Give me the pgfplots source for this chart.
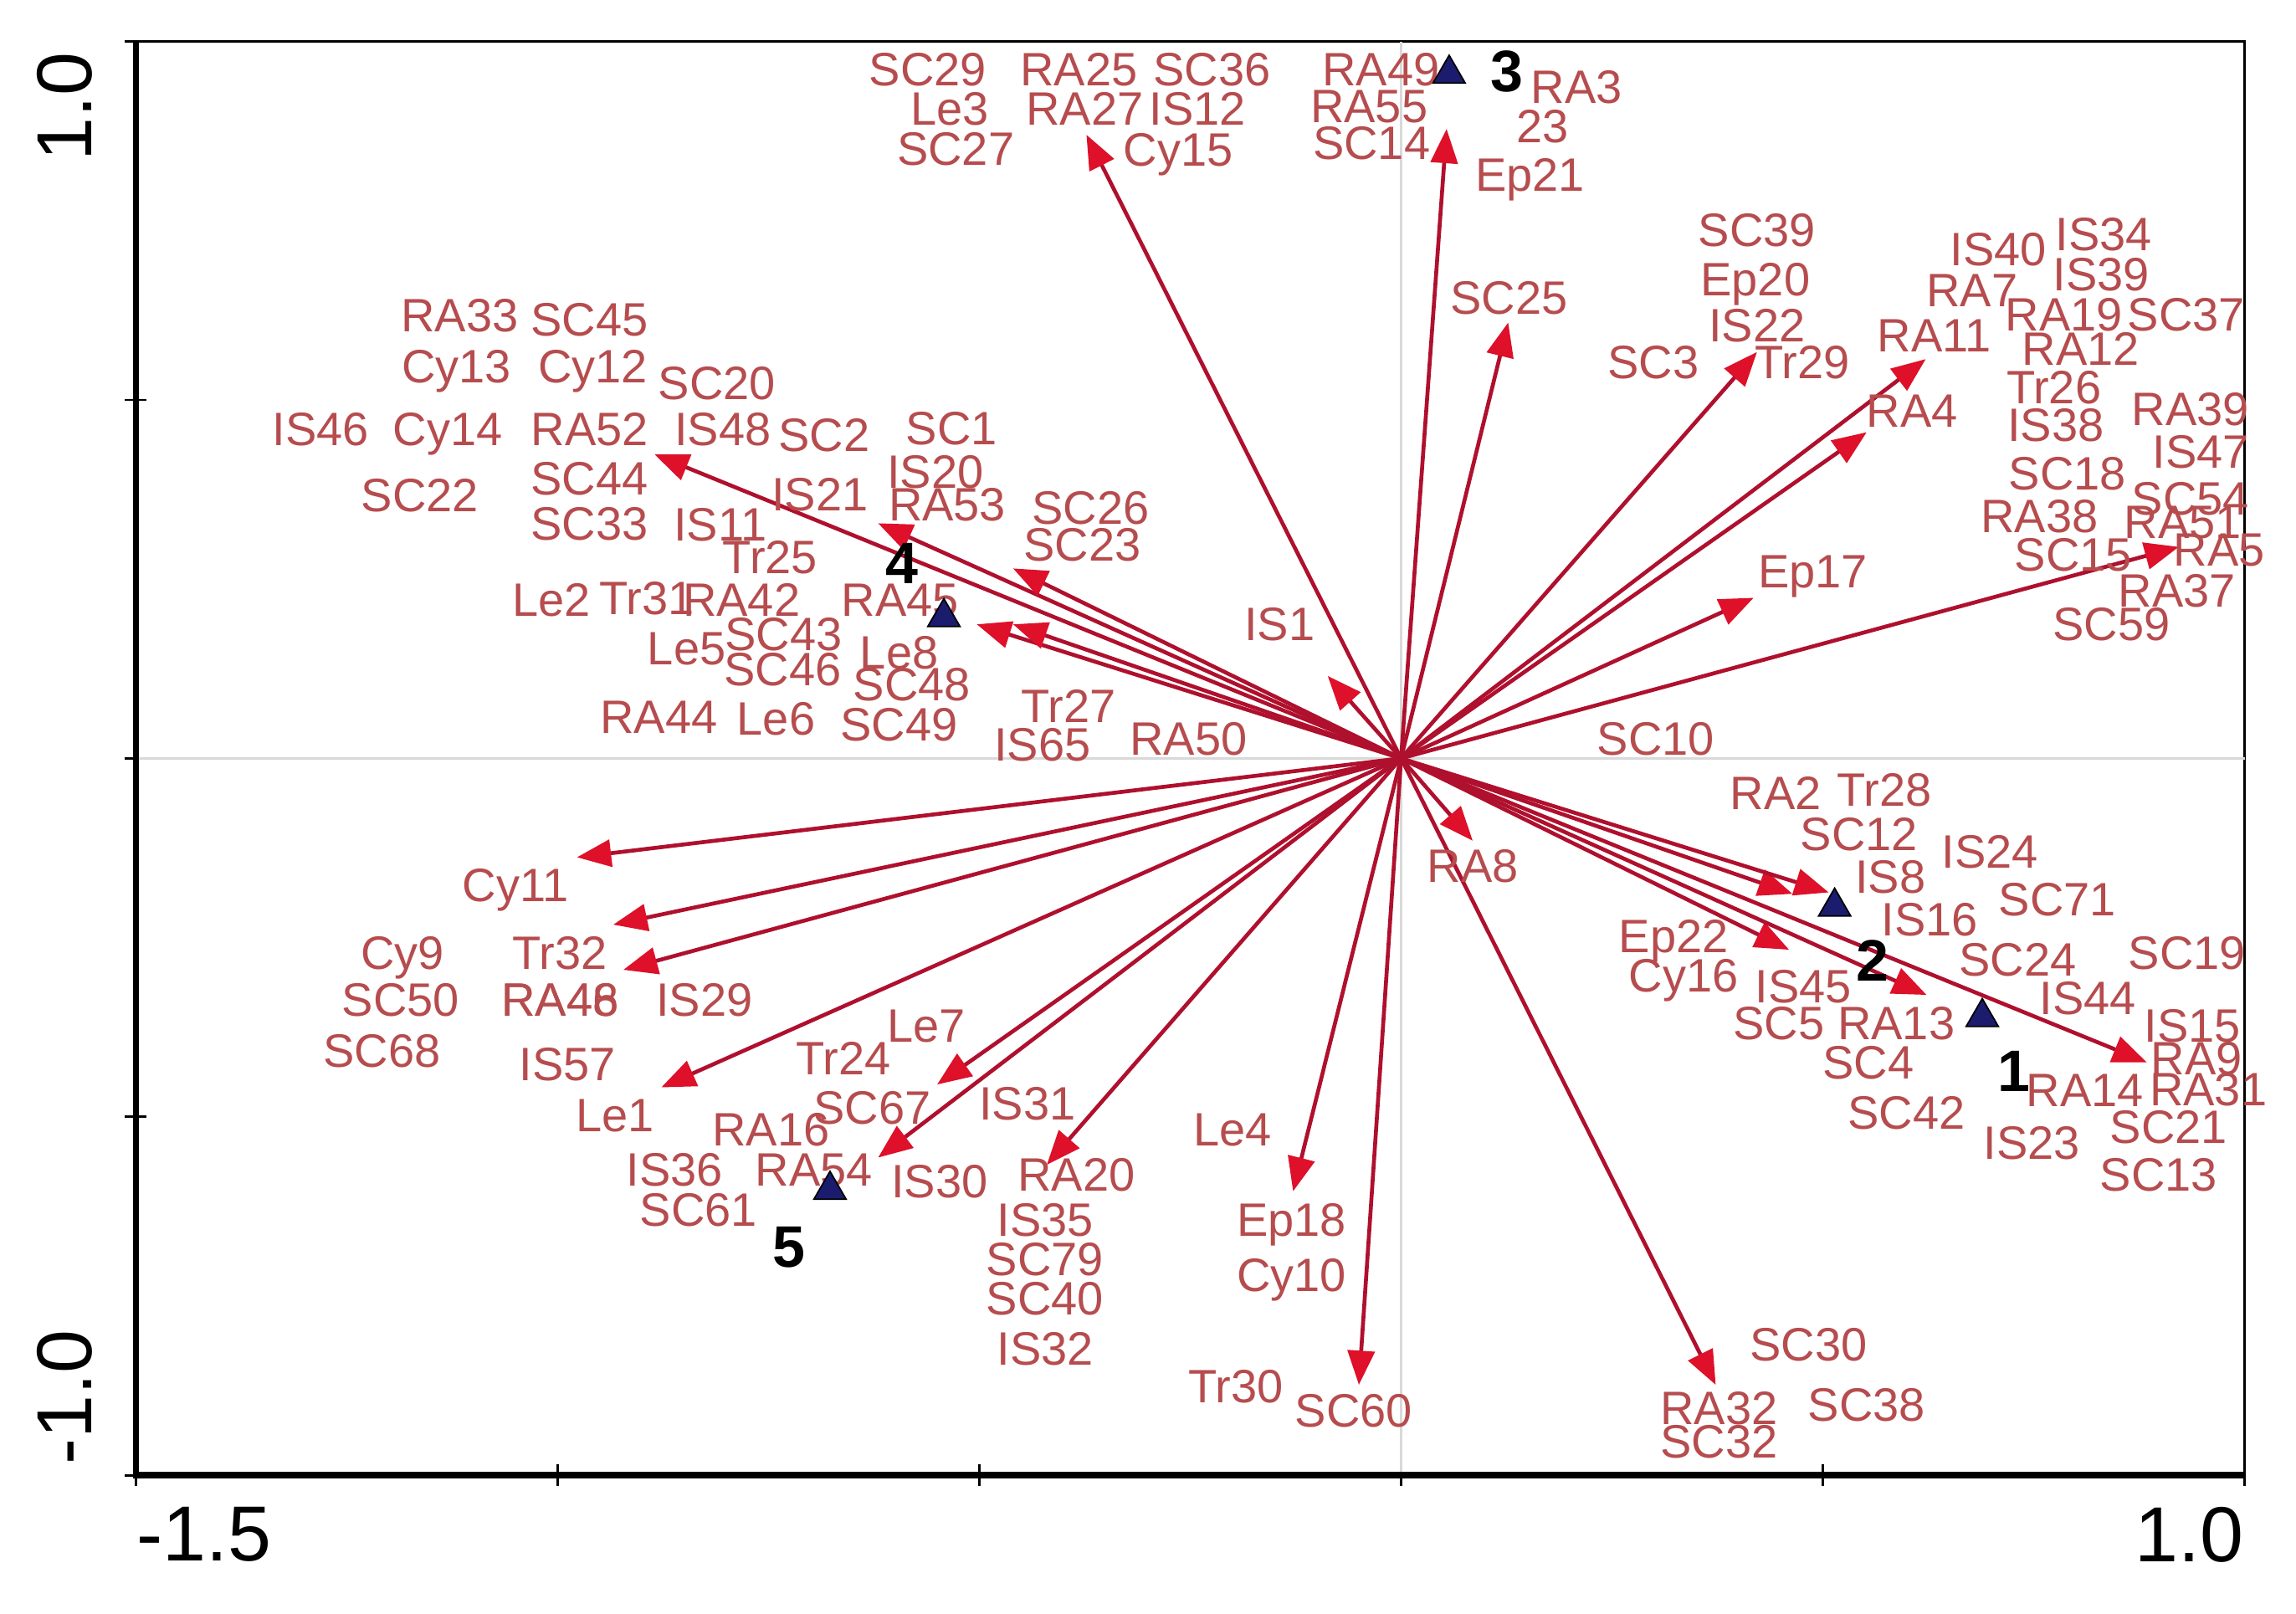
\documentclass[border=0pt]{standalone}
\usepackage{pgfplots}
\pgfplotsset{compat=1.18}
\usepackage{pgfplotstable}
\usepackage{fontspec}
\setmainfont{Liberation Sans}
\usetikzlibrary{arrows.meta}
\definecolor{lblred}{RGB}{182,76,78}
\definecolor{arrline}{RGB}{175,16,45}
\definecolor{arrhead}{RGB}{222,16,42}
\definecolor{navy}{RGB}{28,28,110}

\pgfplotstableread{
x y u v
0 0 -0.373 0.870
0 0 0.054 0.878
0 0 0.127 0.608
0 0 0.422 0.567
0 0 0.622 0.557
0 0 0.552 0.455
0 0 0.418 0.224
0 0 0.922 0.295
0 0 -0.885 0.424
0 0 -0.620 0.328
0 0 -0.460 0.265
0 0 -0.503 0.187
0 0 -0.460 0.187
0 0 -0.087 0.115
0 0 0.085 -0.115
0 0 0.464 -0.189
0 0 0.507 -0.187
0 0 0.460 -0.267
0 0 0.623 -0.330
0 0 0.884 -0.424
0 0 0.373 -0.874
0 0 -0.050 -0.874
0 0 -0.128 -0.604
0 0 -0.420 -0.567
0 0 -0.620 -0.557
0 0 -0.550 -0.455
0 0 -0.877 -0.459
0 0 -0.922 -0.295
0 0 -0.934 -0.232
0 0 -0.977 -0.138
}\arrowtab

\pgfplotstableread{
x y label
-0.561 0.962 SC29
-0.382 0.962 RA25
-0.224 0.962 SC36
-0.535 0.907 Le3
-0.375 0.907 RA27
-0.241 0.907 IS12
-0.528 0.851 SC27
-0.264 0.849 Cy15
-0.024 0.962 RA49
-0.038 0.910 RA55
-0.035 0.859 SC14
0.208 0.937 RA3
0.168 0.882 23
0.153 0.814 Ep21
0.128 0.643 SC25
0.422 0.737 SC39
0.420 0.669 Ep20
0.422 0.604 IS22
0.299 0.553 SC3
0.476 0.553 Tr29
0.708 0.710 IS40
0.833 0.731 IS34
0.677 0.653 RA7
0.830 0.675 IS39
0.786 0.620 RA19
0.931 0.620 SC37
0.632 0.590 RA11
0.806 0.572 RA12
0.774 0.518 Tr26
0.606 0.485 RA4
0.776 0.465 IS38
0.936 0.487 RA39
0.948 0.428 IS47
0.790 0.398 SC18
0.936 0.363 SC54
0.757 0.338 RA38
0.927 0.330 RA51
0.797 0.285 SC15
0.970 0.291 RA5
0.488 0.261 Ep17
0.920 0.234 RA37
0.842 0.187 SC59
-1.116 0.618 RA33
-0.962 0.612 SC45
-1.120 0.547 Cy13
-0.958 0.547 Cy12
-0.811 0.524 SC20
-1.281 0.459 IS46
-1.130 0.459 Cy14
-0.962 0.459 RA52
-0.804 0.459 IS48
-0.684 0.451 SC2
-0.533 0.461 SC1
-1.163 0.367 SC22
-0.962 0.391 SC44
-0.689 0.369 IS21
-0.552 0.400 IS20
-0.962 0.328 SC33
-0.807 0.326 IS11
-0.538 0.355 RA53
-0.368 0.350 SC26
-0.378 0.299 SC23
-0.748 0.281 Tr25
-1.007 0.222 Le2
-0.894 0.224 Tr31
-0.782 0.222 RA42
-0.594 0.222 RA45
-0.847 0.154 Le5
-0.732 0.173 SC43
-0.595 0.148 Le8
-0.733 0.124 SC46
-0.580 0.103 SC48
-0.144 0.187 IS1
-0.880 0.058 RA44
-0.741 0.056 Le6
-0.595 0.048 SC49
-0.394 0.073 Tr27
-0.425 0.019 IS65
-0.252 0.028 RA50
0.302 0.028 SC10
0.444 -0.048 RA2
0.573 -0.044 Tr28
0.543 -0.105 SC12
0.698 -0.130 IS24
0.580 -0.165 IS8
0.778 -0.197 SC71
0.627 -0.224 IS16
0.323 -0.248 Ep22
0.932 -0.271 SC19
0.731 -0.281 SC24
0.335 -0.303 Cy16
0.477 -0.318 IS45
0.814 -0.334 IS44
0.448 -0.369 SC5
0.587 -0.369 RA13
0.938 -0.373 IS15
0.943 -0.418 RA9
0.554 -0.424 SC4
0.811 -0.463 RA14
0.957 -0.461 RA31
0.599 -0.494 SC42
0.910 -0.514 SC21
0.748 -0.536 IS23
0.898 -0.581 SC13
0.085 -0.150 RA8
0.483 -0.818 SC30
0.377 -0.906 RA32
0.552 -0.902 SC38
0.377 -0.953 SC32
-0.200 -0.518 Le4
-0.130 -0.643 Ep18
-0.130 -0.720 Cy10
-0.196 -0.876 Tr30
-0.056 -0.910 SC60
-1.050 -0.177 Cy11
-1.184 -0.271 Cy9
-0.997 -0.271 Tr32
-1.186 -0.336 SC50
-0.997 -0.336 RA46
-0.997 -0.336 RA48
-0.826 -0.336 IS29
-0.563 -0.373 Le7
-1.208 -0.408 SC68
-0.988 -0.426 IS57
-0.661 -0.418 Tr24
-0.932 -0.498 Le1
-0.627 -0.487 SC67
-0.443 -0.481 IS31
-0.747 -0.518 RA16
-0.861 -0.573 IS36
-0.696 -0.573 RA54
-0.547 -0.590 IS30
-0.385 -0.581 RA20
-0.833 -0.630 SC61
-0.422 -0.643 IS35
-0.422 -0.698 SC79
-0.422 -0.753 SC40
-0.422 -0.823 IS32
}\labeltab

\pgfplotstableread{
x y
0.689 -0.361
0.514 -0.207
0.057 0.955
-0.542 0.197
-0.677 -0.602
}\sitetab

\pgfplotstableread{
x y label
0.727 -0.436 1
0.559 -0.281 2
0.125 0.960 3
-0.592 0.273 4
-0.726 -0.681 5
}\sitelabeltab

\begin{document}
\begin{tikzpicture}
\begin{axis}[
  scale only axis, width=432pt, height=293.7pt,
  xmin=-1.5, xmax=1, ymin=-1, ymax=1,
  clip=false,
  axis line style={black, line width=0.6pt},
  xtick={-1.5,-1,-0.5,0,0.5,1}, ytick={-1,-0.5,0,0.5,1},
  xticklabels={}, yticklabels={},
  tick align=center, major tick length=4.5pt,
  tick style={black, line width=0.5pt},
  xtick pos=bottom, ytick pos=left,
]
% zero reference lines
\addplot[black!15, line width=0.5pt] coordinates {(0,-1) (0,1)};
\addplot[black!15, line width=0.5pt] coordinates {(-1.5,0) (1,0)};
% arrows
\addplot[arrline, line width=0.8pt, mark=none,
  quiver={u=\thisrow{u}, v=\thisrow{v},
    every arrow/.append style={-{Triangle[length=7pt,width=5.5pt,color=arrhead]}}}]
  table {\arrowtab};
% labels
\addplot[only marks, mark=none, nodes near coords, point meta=explicit symbolic,
  every node near coord/.style={anchor=base, yshift=-3.4pt, inner sep=0pt,
    text=lblred, font=\fontsize{9.6}{10}\selectfont}]
  table[meta=label] {\labeltab};
% sites
\addplot[only marks, mark=triangle*, mark size=3.8pt,
  mark options={fill=navy, draw=black, line width=0.3pt}] table {\sitetab};
\addplot[only marks, mark=none, nodes near coords, point meta=explicit symbolic,
  every node near coord/.style={anchor=base, yshift=-4.3pt, inner sep=0pt,
    text=black, font=\fontsize{12}{12}\bfseries\selectfont}]
  table[meta=label] {\sitelabeltab};
% thick left and bottom axis lines
\draw[black, line width=1.3pt] (rel axis cs:0,1) -- (rel axis cs:0,0) -- (rel axis cs:1,0);
% tick labels
\node[anchor=north west, inner sep=0pt, font=\fontsize{16}{16}\selectfont]
  at ([yshift=-6.3pt]axis cs:-1.5,-1) {-1.5};
\node[anchor=north east, inner sep=0pt, font=\fontsize{16}{16}\selectfont]
  at ([yshift=-6.3pt]axis cs:1,-1) {1.0};
\node[rotate=90, anchor=south east, inner sep=0pt, font=\fontsize{16}{16}\selectfont]
  at ([xshift=-8.7pt,yshift=-2pt]axis cs:-1.5,1) {1.0};
\node[rotate=90, anchor=south west, inner sep=0pt, font=\fontsize{16}{16}\selectfont]
  at ([xshift=-8.7pt,yshift=2pt]axis cs:-1.5,-1) {-1.0};
% bounding box matching the reference proportions
\path (axis cs:-1.661,-1.193) rectangle (axis cs:1.061,1.058);
\end{axis}
\end{tikzpicture}
\end{document}
